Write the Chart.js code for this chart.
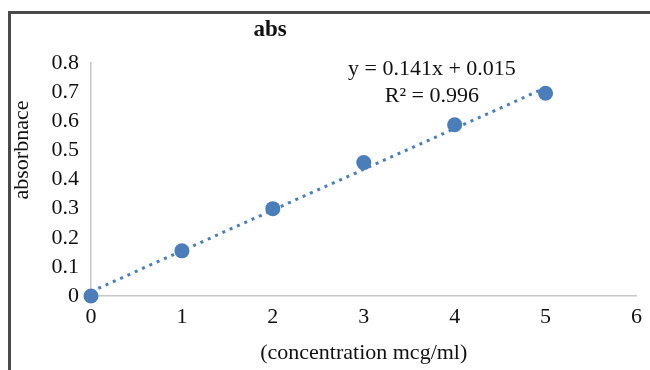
<!DOCTYPE html>
<html>
<head>
<meta charset="utf-8">
<script src="https://cdn.jsdelivr.net/npm/chart.js@4/dist/chart.umd.min.js"></script>
<style>
  html, body { margin: 0; padding: 0; background: #fff; }
  #wrap { position: relative; width: 650px; height: 370px; overflow: hidden; }
  #c { position: absolute; left: 0; top: 0; }
  .bt { position: absolute; left: 8px; top: 11px; width: 642px; height: 3px; background: #4a4a4a; }
  .bl { position: absolute; left: 8px; top: 11px; width: 3px; height: 359px; background: #4a4a4a; }
</style>
</head>
<body>
<div id="wrap">
  <canvas id="c" width="650" height="370"></canvas>
  <div class="bt"></div>
  <div class="bl"></div>
</div>
<script>
// ---- data ----
const concentration = [0, 1, 2, 3, 4, 5];
const absorbance = [0, 0.155, 0.30, 0.458, 0.588, 0.696];
const trendX = [0, 5];
const trendY = [0.015, 0.715];
const xTicks = [0, 1, 2, 3, 4, 5, 6];
const yTicks = [0, 0.1, 0.2, 0.3, 0.4, 0.5, 0.6, 0.7, 0.8];
const chartTitle = 'abs';
const xTitle = '(concentration mcg/ml)';
const yTitle = 'absorbnace';
const equationLines = ['y = 0.141x + 0.015', 'R\u00B2 = 0.996'];
const equationAnchor = { x: 3.75, y: 0.78 };

const FONT = '"Liberation Serif", "Times New Roman", serif';
const BLUE = '#4a7ebb';
const TXT = '#111';

const overlay = {
  id: 'overlay',
  afterDraw(chart) {
    const ctx = chart.ctx;
    ctx.save();
    ctx.fillStyle = TXT;
    ctx.textAlign = 'center';
    ctx.textBaseline = 'middle';
    ctx.font = 'bold 23px ' + FONT;
    ctx.fillText(chartTitle, 270, 30);
    const xs = chart.scales.x, ys = chart.scales.y;
    const px = xs.getPixelForValue(equationAnchor.x);
    const py = ys.getPixelForValue(equationAnchor.y);
    ctx.font = '22px ' + FONT;
    ctx.fillText(equationLines[0], px, py);
    ctx.fillText(equationLines[1], px, py + 27);
    // y axis title
    ctx.translate(22, 150);
    ctx.rotate(-Math.PI / 2);
    ctx.fillText(yTitle, 0, 0);
    ctx.restore();
  }
};

new Chart(document.getElementById('c'), {
  type: 'scatter',
  data: {
    datasets: [
      {
        label: 'trend',
        data: trendX.map((x, i) => ({ x, y: trendY[i] })),
        showLine: true,
        borderColor: BLUE,
        borderWidth: 3,
        borderDash: [3, 5],
        borderCapStyle: 'butt',
        pointRadius: 0,
        fill: false,
        clip: false,
        order: 2
      },
      {
        label: 'abs',
        data: concentration.map((x, i) => ({ x, y: absorbance[i] })),
        backgroundColor: BLUE,
        borderColor: BLUE,
        pointRadius: 7.5,
        pointBorderWidth: 0,
        clip: false,
        order: 1
      }
    ]
  },
  options: {
    responsive: false,
    animation: false,
    devicePixelRatio: 1,
    layout: { padding: { left: 0, right: 13, top: 63, bottom: 0 } },
    plugins: { legend: { display: false }, tooltip: { enabled: false }, title: { display: false } },
    scales: {
      x: {
        type: 'linear',
        min: 0, max: 6,
        afterBuildTicks(s) { s.ticks = xTicks.map(v => ({ value: v })); },
        afterFit(s) { s.height = 74; },
        grid: { display: false, drawTicks: false },
        border: { display: true, color: '#c8c8c8', width: 1.5 },
        ticks: { color: TXT, font: { family: FONT, size: 22 }, padding: 8, maxRotation: 0, autoSkip: false },
        title: { display: true, text: xTitle, color: TXT, font: { family: FONT, size: 22 }, padding: { top: 0, bottom: 4 } }
      },
      y: {
        type: 'linear',
        min: 0, max: 0.8,
        afterBuildTicks(s) { s.ticks = yTicks.map(v => ({ value: v })); },
        afterFit(s) { s.width = 91; },
        grid: { display: false, drawTicks: false },
        border: { display: true, color: '#c8c8c8', width: 1.5 },
        ticks: { color: TXT, font: { family: FONT, size: 22 }, padding: 12, autoSkip: false, callback: v => String(Math.round(v * 10) / 10) },
        title: { display: false }
      }
    }
  },
  plugins: [overlay]
});
</script>
</body>
</html>
